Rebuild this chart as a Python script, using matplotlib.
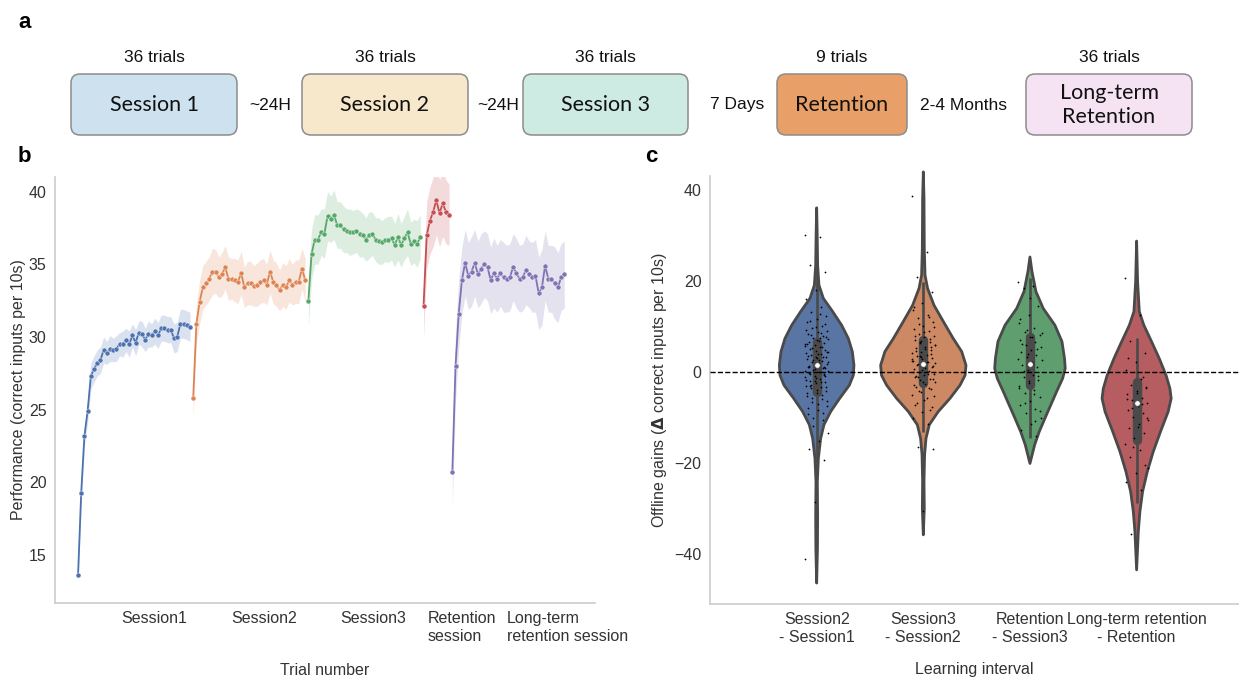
import numpy as np
import matplotlib
matplotlib.use("Agg")
import matplotlib.pyplot as plt
from matplotlib.patches import FancyBboxPatch, Polygon

plt.rcParams['font.family'] = ['Liberation Sans', 'DejaVu Sans']
TXT = '#333333'

# ---------------- panel a : protocol ----------------
box_labels = ['Session 1', 'Session 2', 'Session 3', 'Retention', 'Long-term\nRetention']
box_trials = ['36 trials', '36 trials', '36 trials', '9 trials', '36 trials']
gap_labels = ['~24H', '~24H', '7 Days', '2-4 Months']
box_colors = ['#cde2ee', '#f8e8cb', '#ceebe3', '#e8a068', '#f5e3f3']

# ---------------- panel b : performance per trial ----------------
perf_s1 = [13.6, 19.3, 23.2, 24.9, 27.3, 27.8, 28.2, 28.4, 29.1, 28.9, 29.2, 29.1,
           29.2, 29.5, 29.5, 29.8, 29.5, 30.1, 29.6, 30.3, 30.2, 29.8, 30.2, 30.1,
           30.4, 30.1, 30.6, 30.6, 30.5, 30.5, 29.9, 30.0, 30.9, 30.9, 30.8, 30.7]
perf_s2 = [25.8, 30.9, 32.4, 33.4, 33.7, 34.0, 34.5, 34.5, 34.1, 34.3, 34.8, 34.0,
           34.0, 33.9, 33.8, 34.4, 33.4, 33.7, 33.7, 33.5, 33.6, 33.8, 33.9, 33.6,
           34.5, 33.8, 33.6, 33.2, 33.6, 33.4, 33.9, 33.6, 33.8, 33.8, 34.7, 33.9]
perf_s3 = [32.5, 35.7, 36.7, 36.7, 37.2, 37.1, 38.3, 38.1, 38.4, 37.7, 37.7, 37.4,
           37.3, 37.2, 37.2, 37.3, 37.1, 37.0, 36.7, 37.0, 37.1, 36.7, 36.6, 36.5,
           36.7, 36.7, 36.8, 36.3, 36.9, 36.3, 36.8, 37.2, 36.4, 36.6, 36.4, 36.9]
perf_ret = [32.1, 37.0, 38.0, 38.6, 39.4, 38.5, 39.2, 38.6, 38.4]
perf_lt = [20.7, 28.0, 31.6, 33.9, 35.1, 34.2, 34.5, 35.1, 34.3, 34.7, 35.0, 34.8,
           33.9, 34.4, 34.0, 34.4, 34.1, 34.0, 34.1, 34.8, 34.4, 34.0, 34.1, 34.6,
           34.3, 34.1, 34.2, 33.0, 33.4, 34.9, 34.0, 34.0, 33.7, 33.4, 34.1, 34.3]

ci_s1 = [0.5, 0.6, 0.7, 0.8, 0.9, 0.9, 0.9, 0.9, 0.9, 0.8, 0.9, 0.8, 0.9, 0.8, 0.9, 0.8,
         0.9, 0.8, 0.9, 0.8, 0.9, 0.8, 0.9, 0.8, 0.9, 0.9, 0.9, 0.9, 0.9, 0.9, 1.0, 1.0,
         1.0, 1.0, 1.0, 1.0]
ci_s2 = [1.4, 1.4, 1.5, 1.5, 1.5, 1.5, 1.6, 1.5, 1.4, 1.5, 1.5, 1.5, 1.4, 1.5, 1.5, 1.5,
         1.4, 1.5, 1.5, 1.4, 1.5, 1.5, 1.5, 1.4, 1.5, 1.5, 1.5, 1.4, 1.5, 1.5, 1.5, 1.4,
         1.5, 1.5, 1.4, 1.5]
ci_s3 = [1.8, 1.7, 1.7, 1.7, 1.6, 1.7, 1.7, 1.6, 1.7, 1.6, 1.6, 1.6, 1.5, 1.6, 1.5, 1.5,
         1.6, 1.5, 1.5, 1.6, 1.5, 1.5, 1.6, 1.5, 1.5, 1.6, 1.5, 1.5, 1.6, 1.5, 1.5, 1.6,
         1.5, 1.5, 1.6, 1.5]
ci_ret = [2.2, 2.3, 2.3, 2.4, 2.4, 2.3, 2.3, 2.2, 2.1]
ci_lt = [2.3, 2.5, 2.4, 2.3, 2.3, 2.3, 2.4, 2.3, 2.3, 2.4, 2.3, 2.3, 2.3, 2.4, 2.3, 2.3,
         2.4, 2.3, 2.3, 2.3, 2.4, 2.3, 2.3, 2.4, 2.3, 2.4, 2.5, 2.5, 2.6, 2.4, 2.3, 2.3,
         2.5, 2.4, 2.3, 2.3]

b_tick_pos = [23.7, 58.1, 92.2, 120.0, 153.1]
b_tick_labels = ['Session1', 'Session2', 'Session3', 'Retention\nsession',
                 'Long-term\nretention session']

# ---------------- panel c : offline gains (violins) ----------------
c_labels = ['Session2\n- Session1', 'Session3\n- Session2',
            'Retention\n- Session3', 'Long-term retention\n- Retention']

v1_y = [36.1, 30.8, 23.5, 19.1, 16.2, 13.3, 10.3, 7.4, 4.5, 1.5, -0.7, -2.9, -5.8,
        -8.7, -11.6, -14.6, -19.0, -24.1, -31.4, -38.8, -46.4]
v1_d = [0, .012, .023, .054, .157, .375, .585, .742, .836, .874, .86, .766, .539,
        .328, .171, .094, .04, .016, .023, .019, 0]
v2_y = [44.0, 38.2, 27.2, 21.3, 18.4, 14.7, 11.1, 7.4, 4.5, 1.5, -0.7, -2.9, -5.8,
        -8.7, -11.6, -14.6, -18.2, -24.1, -30.0, -35.8]
v2_d = [0, .016, .023, .04, .1, .25, .47, .70, .90, 1.0, .98, .86, .625, .35, .14,
        .063, .03, .016, .023, 0]
v3_y = [25.3, 22.1, 17.7, 14.0, 10.3, 6.7, 3.0, 0.8, -1.4, -4.3, -7.3, -10.2, -13.1,
        -16.0, -20.1]
v3_d = [0, .047, .14, .31, .585, .75, .81, .827, .766, .625, .485, .35, .218, .11, 0]
v4_y = [28.8, 19.9, 13.3, 10.3, 6.7, 3.0, -0.7, -3.6, -5.8, -8.7, -13.1, -17.5, -21.9,
        -26.3, -30.7, -35.1, -43.5]
v4_d = [0, .023, .063, .17, .35, .53, .69, .78, .81, .74, .56, .39, .25, .14, .077,
        .04, 0]

# quartiles, medians, whiskers
q1 = [-4.3, -2.5, -2.9, -14.9]
q3 = [6.7, 7.0, 7.8, -2.1]
med = [1.5, 1.7, 1.8, -6.8]
wlo = [-19.7, -13.1, -14.6, -28.9]
whi = [24.2, 19.9, 20.6, 7.4]

# individual participants (strip points)
pts1 = [30.1, 29.7, 23.5, 22.0, 18.1, 16.0, 14.2, 13.1, 12.4, 11.6, 11.0, 10.1, 9.6,
        9.1, 8.8, 8.3, 7.9, 7.5, 7.2, 6.8, 6.6, 6.3, 5.9, 5.7, 5.4, 5.0, 4.8, 4.6, 4.1,
        3.9, 3.7, 3.4, 3.0, 2.8, 2.5, 2.1, 1.8, 1.5, 1.2, 0.9, 0.5, 0.3, 0.1, -0.3,
        -0.6, -0.8, -1.2, -1.6, -1.9, -2.1, -2.5, -3.0, -3.3, -3.6, -4.1, -4.7, -5.3,
        -6.0, -6.6, -7.5, -8.4, -9.3, -10.5, -11.8, -13.4, -15.2, -17.0, -19.4, -28.5,
        -41.0, 12.8, 11.3, 10.6, 9.9, 9.3, 8.6, 8.1, 7.7, 7.0, 6.2, 5.6, 5.2, 4.4, 4.0,
        3.6, 3.2, 2.7, 2.3, 1.9, 1.4, 1.0, 0.6, 0.2, -0.1, -0.5, -0.9, -1.4, -1.8, -2.3,
        -2.8, -3.4, -3.9, -4.5, -5.1, -5.8, -6.4, -7.1, -8.0, -9.0, -10.0, 4.3, 2.6,
        1.1, -0.4, -2.0, 6.1, 7.4, -3.1, 0.8, 3.3]
pts2 = [38.6, 26.4, 20.8, 17.5, 15.2, 13.6, 12.5, 11.8, 10.9, 10.2, 9.5, 9.0, 8.4,
        8.0, 7.6, 7.1, 6.7, 6.4, 6.0, 5.6, 5.3, 4.9, 4.5, 4.2, 3.8, 3.5, 3.1, 2.8,
        2.4, 2.1, 1.7, 1.4, 1.0, 0.7, 0.3, 0.0, -0.4, -0.7, -1.1, -1.5, -1.8, -2.3,
        -2.7, -3.2, -3.8, -4.4, -5.0, -5.8, -6.7, -7.6, -8.8, -10.1, -11.5, -16.4,
        -17.0, -30.5, 14.3, 12.0, 10.6, 9.8, 8.7, 7.9, 7.3, 6.6, 5.9, 5.1, 4.7, 4.0,
        3.3, 2.9, 2.2, 1.6, 1.2, 0.5, 0.1, -0.5, -1.0, -1.6, -2.1, -2.9, -3.5, -4.2,
        -5.2, -6.1, -7.2, -8.4, 3.6, 1.9, 0.8, -0.8, 5.5, 6.9, 2.5]
pts3 = [19.8, 19.0, 18.4, 14.5, 12.6, 10.8, 9.6, 8.9, 8.2, 7.6, 7.0, 6.5, 5.9, 5.4,
        4.8, 4.3, 3.7, 3.2, 2.6, 2.1, 1.5, 1.0, 0.5, -0.1, -0.6, -1.2, -1.8, -2.4,
        -3.1, -3.9, -4.6, -5.5, -6.3, -7.2, -8.1, -9.0, -10.2, -11.4, -12.8, -14.0,
        9.2, 8.5, 7.8, 6.2, 5.1, 3.9, 2.9, 1.8, 0.2, -0.9, -2.0, -3.5, -4.9, -6.7,
        -8.6, 16.2, 11.7, -10.8]
pts4 = [20.7, 12.5, 6.9, 4.1, 2.2, 0.4, -1.6, -2.8, -3.5, -4.2, -4.9, -5.6, -6.1,
        -6.9, -7.5, -8.3, -9.0, -9.8, -10.6, -11.5, -12.4, -13.3, -14.5, -15.8,
        -17.2, -18.6, -20.4, -22.3, -24.1, -26.0, -35.5, -3.2, -4.6, -5.9, -7.1,
        -8.0, -10.1, -12.0, 3.0, -1.0, -16.5, -21.0]

deep = ['#4C72B0', '#DD8452', '#55A868', '#C44E52', '#8172B3']
violin_cols = ['#5875a4', '#cc8963', '#5f9e6e', '#b55d60']
GRAY = '#4a4a4a'

fig = plt.figure(figsize=(12.39, 6.79), dpi=100)

# panel a drawn in pixel coordinates
axa = fig.add_axes([0, 0, 1, 1], zorder=0)
axa.set_xlim(0, 1239)
axa.set_ylim(679, 0)
axa.axis('off')
box_x = [(71, 237), (302, 468), (523, 688), (777, 907), (1026, 1192)]
gap_x = [270, 498, 737, 963]
for (x0, x1), lab, tr, col in zip(box_x, box_labels, box_trials, box_colors):
    axa.add_patch(FancyBboxPatch((x0, 74), x1 - x0, 61,
                                 boxstyle='round,pad=0,rounding_size=9',
                                 fc=col, ec='#8c8c8c', lw=1.1))
    axa.text((x0 + x1) / 2, 105, lab, ha='center', va='center', fontsize=15.5,
             family=['Lato', 'DejaVu Sans'], color='#111111', linespacing=1.25)
    axa.text((x0 + x1) / 2, 58, tr, ha='center', va='center', fontsize=12.5,
             color='#111111')
for gx, g in zip(gap_x, gap_labels):
    axa.text(gx, 105, g, ha='center', va='center', fontsize=12.5, color='#111111')
for lx, ly, l in [(18, 22, 'a'), (18, 157, 'b'), (645, 157, 'c')]:
    axa.text(lx, ly, l, ha='left', va='center', fontsize=16, fontweight='bold')

# panel b
axb = fig.add_axes([55 / 1239, 1 - 603 / 679, 540 / 1239, 426 / 679])
start = 0
for vals, ci, col in zip([perf_s1, perf_s2, perf_s3, perf_ret, perf_lt],
                         [ci_s1, ci_s2, ci_s3, ci_ret, ci_lt], deep):
    x = np.arange(start, start + len(vals))
    y = np.array(vals)
    c = np.array(ci)
    axb.fill_between(x, y - c, y + c, color=col, alpha=0.2, lw=0)
    axb.plot(x, y, color=col, lw=1.3, marker='o', ms=3.6, mec='white', mew=0.3)
    start += len(vals)
axb.set_xlim(-7.2, 161.6)
axb.set_ylim(11.7, 41.0)
axb.set_yticks([15, 20, 25, 30, 35, 40])
axb.set_xticks(b_tick_pos)
axb.set_xticklabels(b_tick_labels, multialignment='left')
axb.set_xlabel('Trial number', fontsize=11.5, color=TXT)
axb.xaxis.set_label_coords(0.5, -0.14)
axb.set_ylabel('Performance (correct inputs per 10s)', fontsize=11.5, color=TXT)
axb.yaxis.set_label_coords(-0.053, 0.5)

# panel c
axc = fig.add_axes([710 / 1239, 1 - 604 / 679, 529 / 1239, 428 / 679])
for i, (vy, vd, col) in enumerate(zip([v1_y, v2_y, v3_y, v4_y],
                                      [v1_d, v2_d, v3_d, v4_d], violin_cols)):
    vy = np.array(vy)
    vd = np.array(vd) * 0.4
    xs = np.concatenate([i - vd, (i + vd)[::-1]])
    ys = np.concatenate([vy, vy[::-1]])
    axc.add_patch(Polygon(np.column_stack([xs, ys]), closed=True, fc=col,
                          ec=GRAY, lw=2.0, joinstyle='round', clip_on=False,
                          zorder=1))
    axc.plot([i, i], [wlo[i], whi[i]], color=GRAY, lw=1.9, zorder=2,
             solid_capstyle='butt')
    axc.plot([i, i], [q1[i], q3[i]], color=GRAY, lw=6.8, zorder=2,
             solid_capstyle='round')
    axc.plot([i], [med[i]], 'o', color='white', ms=4, mec=GRAY, mew=0.5, zorder=4)

for i, pts in enumerate([pts1, pts2, pts3, pts4]):
    k = np.arange(len(pts))
    off = ((k * 37) % 23 - 11) / 11 * 0.11
    axc.scatter(i + off, pts, s=1.6, color='black', lw=0, zorder=3)

axc.axhline(0, color='black', ls='--', lw=1.0, zorder=5)
axc.set_xlim(-1.0, 3.96)
axc.set_ylim(-51.0, 43.1)
axc.set_yticks([-40, -20, 0, 20, 40])
axc.set_xticks(range(4))
axc.set_xticklabels(c_labels)
axc.set_xlabel('Learning interval', fontsize=11.5, color=TXT)
axc.xaxis.set_label_coords(0.5, -0.135)
axc.set_ylabel(r'Offline gains ($\mathbf{\Delta}$ correct inputs per 10s)',
               fontsize=11.5, color=TXT)

for ax in (axb, axc):
    for s in ('top', 'right'):
        ax.spines[s].set_visible(False)
    for s in ('left', 'bottom'):
        ax.spines[s].set_color('#cccccc')
        ax.spines[s].set_linewidth(1.2)
    ax.tick_params(length=0, labelsize=11.5, labelcolor=TXT, pad=6)
    ax.set_facecolor('none')

fig.savefig('out.png', dpi=100)
